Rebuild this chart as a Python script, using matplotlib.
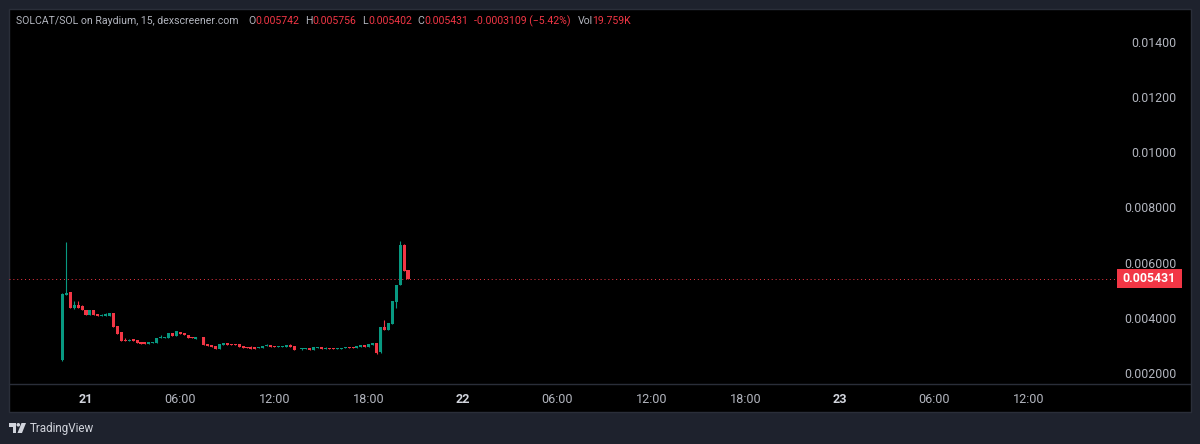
import matplotlib
matplotlib.use("Agg")
import matplotlib.pyplot as plt
from matplotlib.patches import Polygon, Circle, Rectangle
from matplotlib.transforms import blended_transform_factory

# 15-minute candles, prices in units of 0.001 SOL
opens = [2.49,4.84,4.94,4.36,4.48,4.42,4.30,4.12,4.30,4.15,4.08,4.09,4.08,4.19,3.73,3.48,3.22,3.18,3.24,3.20,3.14,3.14,3.08,3.11,3.11,3.27,3.28,3.28,3.46,3.34,3.50,3.46,3.40,3.32,3.26,3.30,3.32,3.05,3.03,2.99,2.89,3.04,3.09,3.08,3.07,3.055,3.00,2.97,2.95,2.95,2.92,2.92,2.99,3.02,2.99,2.97,2.97,2.96,3.03,2.99,2.87,2.89,2.90,2.92,2.86,2.93,2.96,2.90,2.92,2.92,2.90,2.90,2.93,2.96,2.96,2.93,2.96,3.04,2.96,3.04,3.10,2.78,3.69,3.57,3.79,4.58,5.20,6.66,5.742]
closes = [4.88,4.92,4.38,4.48,4.38,4.29,4.12,4.30,4.12,4.06,4.12,4.13,4.19,3.69,3.44,3.18,3.18,3.22,3.18,3.10,3.08,3.08,3.14,3.15,3.28,3.33,3.33,3.46,3.34,3.52,3.44,3.38,3.28,3.28,3.31,3.33,3.03,2.99,2.96,2.89,3.06,3.10,3.03,3.03,3.03,2.96,2.92,2.93,2.90,2.90,2.95,2.99,3.03,2.97,2.97,2.99,2.99,3.03,2.96,2.86,2.88,2.92,2.92,2.86,2.96,2.96,2.89,2.93,2.90,2.89,2.92,2.92,2.96,2.93,2.93,2.99,3.04,2.96,3.08,3.10,2.73,3.69,3.57,3.83,4.62,5.21,6.66,5.72,5.431]
highs = [4.90,6.76,4.94,4.63,4.62,4.47,4.30,4.30,4.30,4.15,4.16,4.19,4.19,4.19,3.73,3.48,3.27,3.26,3.24,3.20,3.14,3.14,3.14,3.15,3.28,3.40,3.33,3.46,3.46,3.52,3.50,3.46,3.40,3.32,3.31,3.33,3.32,3.05,3.03,2.99,3.06,3.10,3.09,3.08,3.07,3.055,3.00,2.97,3.00,2.95,2.95,2.99,3.06,3.02,2.99,2.99,2.99,3.03,3.06,2.99,2.88,2.92,2.92,2.92,2.96,2.96,2.96,2.97,2.92,2.92,2.92,2.92,2.96,2.96,2.96,2.99,3.04,3.04,3.08,3.10,3.10,3.69,3.93,3.83,4.62,5.21,6.78,6.68,5.756]
lows = [2.46,4.84,4.38,4.32,4.38,4.29,4.12,4.12,4.12,4.06,4.07,4.08,4.08,3.69,3.44,3.18,3.18,3.18,3.18,3.10,3.08,3.08,3.08,3.11,3.11,3.27,3.28,3.28,3.34,3.34,3.44,3.38,3.28,3.28,3.26,3.30,3.03,2.99,2.96,2.89,2.89,3.04,3.03,3.03,3.03,2.96,2.92,2.93,2.90,2.90,2.92,2.92,2.99,2.97,2.97,2.97,2.97,2.96,2.96,2.86,2.87,2.85,2.90,2.86,2.86,2.93,2.89,2.90,2.90,2.89,2.90,2.90,2.93,2.93,2.93,2.93,2.96,2.96,2.96,3.04,2.70,2.75,3.57,3.57,3.79,4.38,5.20,5.72,5.402]
# hours relative to the "21" tick for the first candle
first_hour = -1.5
bar_hours = 0.25

price_ticks = [0.002, 0.004, 0.006, 0.008, 0.010, 0.012, 0.014]
price_labels = ["0.002000", "0.004000", "0.006000", "0.008000", "0.01000", "0.01200", "0.01400"]
time_ticks = [0, 6, 12, 18, 24, 30, 36, 42, 48, 54, 60]
time_labels = ["21", "06:00", "12:00", "18:00", "22", "06:00", "12:00", "18:00", "23", "06:00", "12:00"]
day_labels = {"21", "22", "23"}
last_price = 0.005431
last_label = "0.005431"

header = [
    (16, "SOLCAT/SOL on Raydium, 15, dexscreener.com", "text"),
    (248, "O", "text"), (255, "0.005742", "val"),
    (305, "H", "text"), (312.5, "0.005756", "val"),
    (362.5, "L", "text"), (368, "0.005402", "val"),
    (417, "C", "text"), (424, "0.005431", "val"),
    (474.5, "-0.0003109 (\u22125.42%)", "val"),
    (578, "Vol", "text"), (592.5, "19.759K", "val"),
]

BG = "#1e222d"
LINE = "#2a2e39"
TXT = "#b2b5be"
RED = "#f23645"
GREEN = "#089981"
FONT = "Roboto"

W, H = 1200, 444
fig = plt.figure(figsize=(12, 4.44), dpi=100, facecolor=BG)

# chrome layer in pixel coordinates
ch = fig.add_axes([0, 0, 1, 1], zorder=0)
ch.set_xlim(0, W)
ch.set_ylim(H, 0)
ch.axis("off")
ch.add_patch(Rectangle((9, 9), 1181.5, 402.5, fc="black", ec=LINE, lw=1))
ch.plot([9, 1190.5], [384.3, 384.3], color=LINE, lw=1)

for x, s, kind in header:
    ch.text(x, 19.5, s, color=TXT if kind == "text" else RED, fontsize=7.6,
            family=FONT, ha="left", va="center_baseline")

# TradingView logo
ch.add_patch(Polygon([(9, 423), (16, 423), (16, 433), (12.5, 433), (12.5, 426.5), (9, 426.5)], fc="#d1d4dc", ec="none"))
ch.add_patch(Circle((18.3, 424.8), 1.8, fc="#d1d4dc", ec="none"))
ch.add_patch(Polygon([(21.5, 423), (26, 423), (22, 433), (17.5, 433)], fc="#d1d4dc", ec="none"))
ch.text(30, 428, "TradingView", color="#d1d4dc", fontsize=8.4, family=FONT, ha="left", va="center")

# chart layer
ax = fig.add_axes([9 / W, 1 - 384.3 / H, (1117 - 9) / W, (384.3 - 9) / H], zorder=1)
ax.patch.set_alpha(0)
ax.set_xlim((9 - 86) / 15.708, (1117 - 86) / 15.708)
ax.set_ylim(0.002 - 10.9 / 27650, 0.002 + 364.3 / 27650)
for s in ax.spines.values():
    s.set_visible(False)

n = len(opens)
xs = [first_hour + i * bar_hours for i in range(n)]
for x, o, h, l, c in zip(xs, opens, highs, lows, closes):
    col = GREEN if c >= o else RED
    ax.vlines(x, l / 1000, h / 1000, color=col, lw=0.8, zorder=2)
    ax.bar(x, abs(c - o) / 1000, bottom=min(o, c) / 1000, width=bar_hours * 0.78,
           color=col, linewidth=0, zorder=3)

ax.axhline(last_price, color=RED, lw=0.7, ls=(0, (1, 3)), zorder=1)

ax.set_xticks(time_ticks)
ax.set_xticklabels(time_labels, family=FONT, fontsize=9.1, color=TXT)
for lab in ax.get_xticklabels():
    if lab.get_text() in day_labels:
        lab.set_fontweight("bold")
        lab.set_color("#d1d4dc")
ax.set_yticks(price_ticks)
ax.set_yticklabels(price_labels, family=FONT, fontsize=8.9, color=TXT, ha="right")
ax.yaxis.tick_right()
ax.tick_params(axis="x", length=0, pad=6)
ax.tick_params(axis="y", length=0, pad=42.5)

tr = blended_transform_factory(ax.transAxes, ax.transData)
box_w = 64.5 / (1117 - 9)
box_h = 18.3 / 27650
ax.add_patch(Rectangle((1, last_price - box_h / 2), box_w, box_h, transform=tr, fc=RED, ec="none",
                       clip_on=False, zorder=5))
ax.text(1 + 59 / (1117 - 9), last_price, last_label, transform=tr, color="white", fontsize=8.8,
        family=FONT, fontweight="bold", ha="right", va="center", zorder=6)

fig.savefig("out.png", dpi=100, facecolor=BG)
